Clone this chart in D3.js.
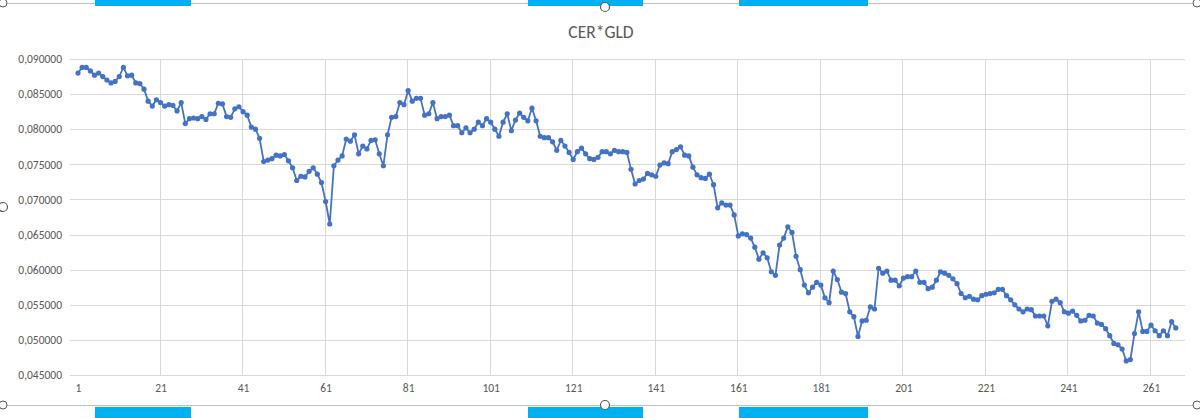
<!DOCTYPE html>
<html><head><meta charset="utf-8">
<script src="https://cdn.jsdelivr.net/npm/d3@7"></script>
<style>body{margin:0;background:#fff}svg{display:block}</style>
</head><body><svg id="c" width="1200" height="418"></svg>
<script>
const title = "CER*GLD";
const values = [
0.0880,0.0888,0.0888,0.0883,0.0877,0.0880,0.0875,0.0870,0.0866,0.0868,0.0875,0.0888,0.0876,0.0877,0.0866,0.0865,0.0857,0.0840,0.0833,0.0842,
0.0838,0.0833,0.0835,0.0834,0.0826,0.0838,0.0808,0.0815,0.0816,0.0815,0.0818,0.0814,0.0822,0.0822,0.0837,0.0836,0.0818,0.0817,0.0829,0.0832,
0.0825,0.0820,0.0803,0.0800,0.0787,0.0754,0.0756,0.0758,0.0763,0.0762,0.0764,0.0755,0.0745,0.0727,0.0733,0.0732,0.0740,0.0745,0.0736,0.0724,
0.0697,0.0665,0.0748,0.0756,0.0762,0.0786,0.0783,0.0792,0.0765,0.0776,0.0772,0.0784,0.0785,0.0765,0.0748,0.0792,0.0817,0.0818,0.0838,0.0835,
0.0855,0.0840,0.0844,0.0844,0.0820,0.0822,0.0838,0.0815,0.0818,0.0818,0.0820,0.0805,0.0805,0.0795,0.0802,0.0795,0.0800,0.0810,0.0805,0.0815,
0.0810,0.0800,0.0790,0.0810,0.0822,0.0798,0.0813,0.0823,0.0817,0.0812,0.0830,0.0812,0.0790,0.0788,0.0788,0.0782,0.0770,0.0784,0.0776,0.0767,
0.0757,0.0768,0.0773,0.0765,0.0758,0.0757,0.0760,0.0768,0.0768,0.0765,0.0770,0.0768,0.0768,0.0767,0.0743,0.0722,0.0727,0.0729,0.0737,0.0735,
0.0733,0.0749,0.0752,0.0751,0.0768,0.0771,0.0775,0.0763,0.0762,0.0746,0.0735,0.0731,0.0730,0.0736,0.0721,0.0688,0.0695,0.0692,0.0692,0.0678,
0.0648,0.0651,0.0650,0.0645,0.0632,0.0615,0.0624,0.0617,0.0597,0.0592,0.0635,0.0645,0.0661,0.0653,0.0619,0.0600,0.0578,0.0567,0.0575,0.0582,
0.0578,0.0560,0.0553,0.0598,0.0586,0.0568,0.0566,0.0540,0.0533,0.0505,0.0527,0.0528,0.0547,0.0544,0.0602,0.0595,0.0598,0.0585,0.0585,0.0577,
0.0588,0.0590,0.0590,0.0598,0.0582,0.0582,0.0573,0.0575,0.0585,0.0597,0.0595,0.0592,0.0587,0.0580,0.0566,0.0560,0.0562,0.0558,0.0557,0.0563,
0.0565,0.0566,0.0567,0.0572,0.0572,0.0563,0.0557,0.0550,0.0544,0.0540,0.0544,0.0543,0.0534,0.0534,0.0534,0.0520,0.0555,0.0558,0.0553,0.0540,
0.0538,0.0541,0.0535,0.0527,0.0528,0.0535,0.0534,0.0524,0.0522,0.0516,0.0506,0.0495,0.0493,0.0487,0.0470,0.0472,0.0509,0.0540,0.0512,0.0512,
0.0521,0.0513,0.0506,0.0513,0.0506,0.0526,0.0517
];
const yTicks = [0.045,0.050,0.055,0.060,0.065,0.070,0.075,0.080,0.085,0.090];
const xTickLabels = [1,21,41,61,81,101,121,141,161,181,201,221,241,261];

const svg = d3.select("#c");
const x = d3.scaleLinear().domain([1,261]).range([78,1151]);
const y = d3.scaleLinear().domain([0.045,0.090]).range([375,59]);
const grey="#595959", grid="#d9d9d9";
const ff = "Calibri, Carlito, 'Open Sans', sans-serif";

svg.append("line").attr("x1",0).attr("x2",1200).attr("y1",3.5).attr("y2",3.5).attr("stroke","#bfbfbf");
svg.append("line").attr("x1",0).attr("x2",1200).attr("y1",405.5).attr("y2",405.5).attr("stroke","#bfbfbf");
[[95,191],[528,643],[739,868]].forEach(([a,b])=>{
  svg.append("rect").attr("x",a).attr("y",0).attr("width",b-a).attr("height",6).attr("fill","#00b0f0");
  svg.append("rect").attr("x",a).attr("y",407).attr("width",b-a).attr("height",11).attr("fill","#00b0f0");
});
[[605,7],[605,405],[3,207]].forEach(([cx,cy])=>svg.append("circle").attr("cx",cx).attr("cy",cy).attr("r",4.5).attr("fill","#fff").attr("stroke","#595959").attr("stroke-width",1.2));
[[3,3],[3,405],[1197,3],[1197,405]].forEach(([cx,cy])=>svg.append("circle").attr("cx",cx).attr("cy",cy).attr("r",4).attr("fill","#fff").attr("stroke","#595959"));

svg.append("text").attr("x",601).attr("y",38).attr("text-anchor","middle")
  .attr("font-family",ff).attr("font-size",17.5).attr("fill",grey).text(title);

svg.append("g").selectAll("line").data(yTicks.filter(d=>d>0.045)).join("line")
  .attr("x1",70).attr("x2",1185).attr("y1",d=>Math.round(y(d))+0.5).attr("y2",d=>Math.round(y(d))+0.5).attr("stroke",grid);
svg.append("g").selectAll("line").data(xTickLabels.slice(1)).join("line")
  .attr("x1",d=>Math.round(x(d)-1)+0.5).attr("x2",d=>Math.round(x(d)-1)+0.5).attr("y1",59).attr("y2",375).attr("stroke",grid);
svg.append("line").attr("x1",70).attr("x2",1185).attr("y1",375.5).attr("y2",375.5).attr("stroke",grid);

const fmt = d => d3.format(".6f")(d).replace(".",",");
const gy = svg.append("g").attr("transform","translate(70,0)").call(d3.axisLeft(y).tickValues(yTicks).tickFormat(fmt).tickSize(0).tickPadding(8));
gy.select(".domain").remove();
gy.selectAll("text").attr("font-family",ff).attr("font-size",11.5).attr("fill",grey);

const gx = svg.append("g").attr("transform","translate(0,375)").call(d3.axisBottom(x).tickValues(xTickLabels).tickFormat(d=>d).tickSize(0).tickPadding(9));
gx.select(".domain").remove();
gx.selectAll("text").attr("font-family",ff).attr("font-size",11.5).attr("fill",grey);

const line = d3.line().x((d,i)=>x(i+1)).y(d=>y(d));
svg.append("path").datum(values).attr("d",line).attr("fill","none").attr("stroke","#4472c4").attr("stroke-width",1.8);
svg.append("g").selectAll("circle").data(values).join("circle")
  .attr("cx",(d,i)=>x(i+1)).attr("cy",d=>y(d)).attr("r",2.6).attr("fill","#4472c4");
</script></body></html>
